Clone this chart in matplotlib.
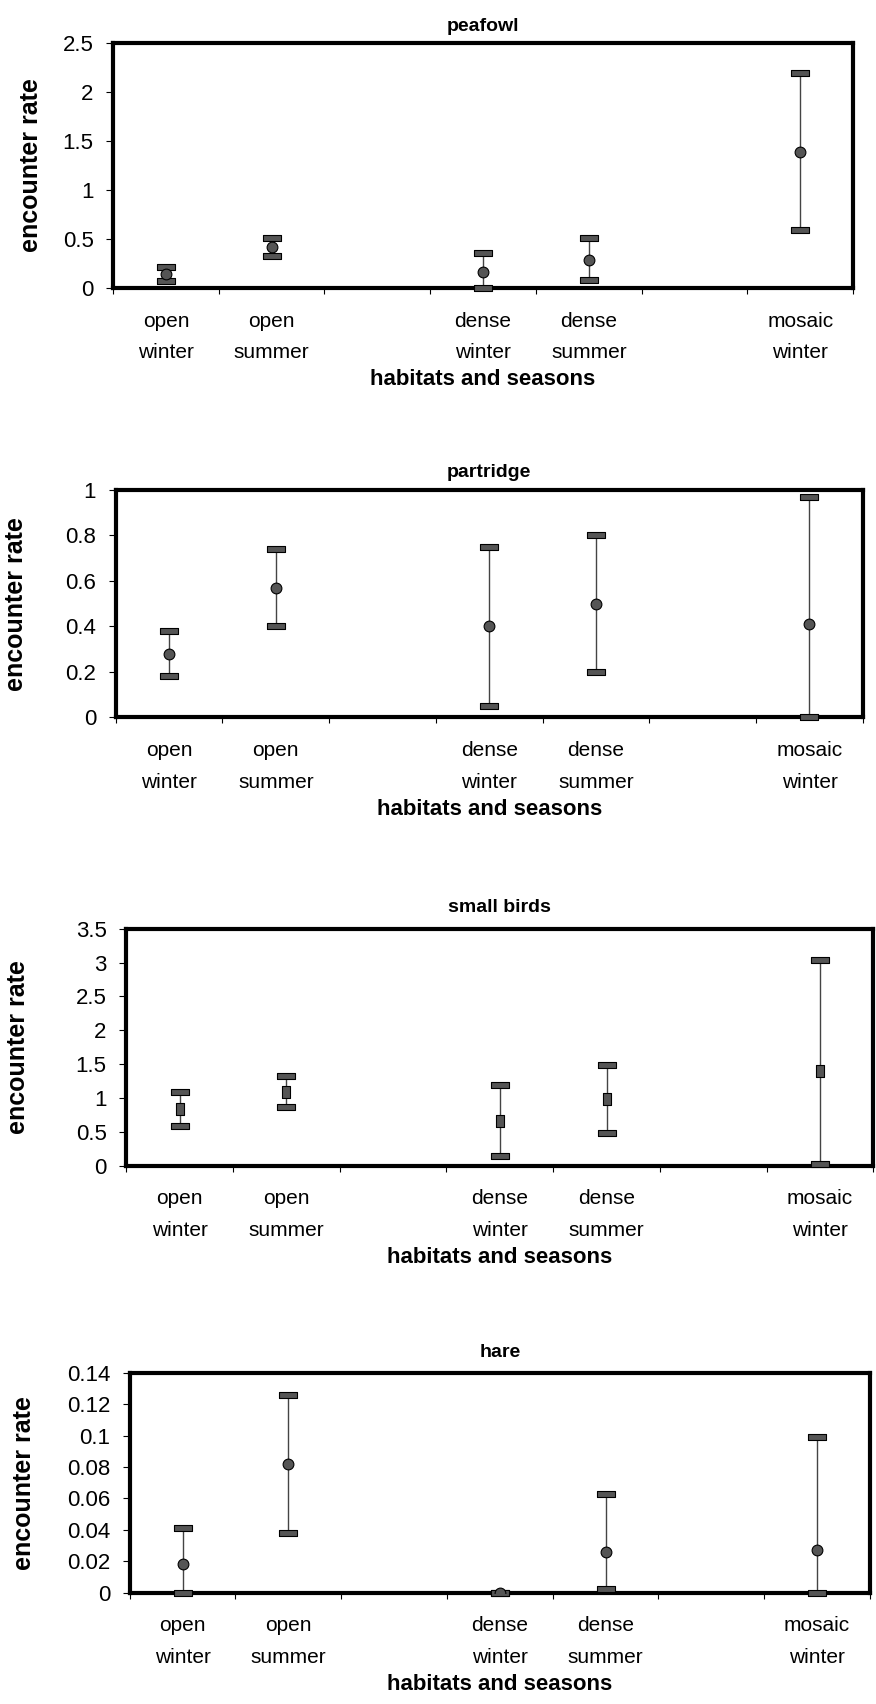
import numpy as np
import matplotlib
matplotlib.use('Agg')
import matplotlib.pyplot as plt
from matplotlib.ticker import FuncFormatter

plt.rcParams['font.family'] = ['Liberation Sans', 'DejaVu Sans']

nan = np.nan

# categories (Excel style, two empty slots between the habitat groups)
categories = ['open\nwinter', 'open\nsummer', '', 'dense\nwinter', 'dense\nsummer', '', 'mosaic\nwinter']

# peafowl
peafowl_mean = [0.14, 0.42, nan, 0.16, 0.29, nan, 1.39]
peafowl_low = [0.07, 0.33, nan, 0.0, 0.08, nan, 0.59]
peafowl_high = [0.21, 0.51, nan, 0.36, 0.51, nan, 2.19]

# partridge
partridge_mean = [0.28, 0.57, nan, 0.40, 0.50, nan, 0.41]
partridge_low = [0.18, 0.40, nan, 0.05, 0.20, nan, 0.0]
partridge_high = [0.38, 0.74, nan, 0.75, 0.80, nan, 0.97]

# small birds
smallbirds_mean = [0.83, 1.09, nan, 0.66, 0.98, nan, 1.40]
smallbirds_low = [0.58, 0.86, nan, 0.14, 0.48, nan, 0.02]
smallbirds_high = [1.08, 1.33, nan, 1.19, 1.49, nan, 3.03]

# hare
hare_mean = [0.018, 0.082, nan, 0.0, 0.026, nan, 0.027]
hare_low = [0.0, 0.038, nan, 0.0, 0.002, nan, 0.0]
hare_high = [0.041, 0.126, nan, 0.0, 0.063, nan, 0.099]

# title, mean, low, high, marker, ymax, step, axes rect, title pad, ylabel pad
panels = [
    ('peafowl', peafowl_mean, peafowl_low, peafowl_high, 'o', 2.5, 0.5,
     [0.129, 0.831, 0.845, 0.144], 8, 14),
    ('partridge', partridge_mean, partridge_low, partridge_high, 'o', 1.0, 0.2,
     [0.132, 0.579, 0.853, 0.1335], 9, 27),
    ('small birds', smallbirds_mean, smallbirds_low, smallbirds_high, 's', 3.5, 0.5,
     [0.144, 0.316, 0.853, 0.139], 12, 33),
    ('hare', hare_mean, hare_low, hare_high, 'o', 0.14, 0.02,
     [0.148, 0.0654, 0.845, 0.129], 11, 22),
]

# flat bar for the error caps, tall box for the small-bird means
cap = [(-1, -0.3), (1, -0.3), (1, 0.3), (-1, 0.3), (-1, -0.3)]
box = [(-0.7, -1), (0.7, -1), (0.7, 1), (-0.7, 1), (-0.7, -1)]

fig = plt.figure(figsize=(8.76, 17.04), dpi=100)

for title, mean, low, high, mk, ymax, step, rect, tpad, ypad in panels:
    ax = fig.add_axes(rect)
    x = np.arange(len(categories))

    ax.vlines(x, low, high, color='#444444', lw=1.0, zorder=2)
    ax.scatter(x, high, marker=cap, s=175, color='#555555', edgecolors='black',
               linewidths=0.8, zorder=3, clip_on=False)
    ax.scatter(x, low, marker=cap, s=175, color='#555555', edgecolors='black',
               linewidths=0.8, zorder=3, clip_on=False)
    if mk == 's':
        ax.scatter(x, mean, marker=box, s=70, color='#555555', edgecolors='black',
                   linewidths=0.8, zorder=4)
    else:
        ax.scatter(x, mean, marker='o', s=60, color='#555555', edgecolors='black',
                   linewidths=0.8, zorder=4)

    ax.set_xlim(-0.5, len(categories) - 0.5)
    ax.set_ylim(0, ymax)
    ax.set_yticks(np.arange(0, ymax + step / 2, step))
    ax.yaxis.set_major_formatter(FuncFormatter(lambda v, p: '{:g}'.format(round(v, 4))))

    ax.set_xticks(x)
    ax.set_xticklabels(categories, fontsize=15, linespacing=1.85)
    ax.set_xticks(np.arange(-0.5, len(categories), 1.0), minor=True)
    ax.tick_params(axis='x', which='major', length=0, pad=17)
    ax.tick_params(axis='x', which='minor', length=4, width=0.8, direction='out')
    ax.tick_params(axis='y', length=5, width=0.8, direction='out', labelsize=16, pad=9)

    for s in ax.spines.values():
        s.set_linewidth(3)

    ax.set_title(title, fontsize=14, fontweight='bold', pad=tpad)
    ax.set_ylabel('encounter rate', fontsize=18, fontweight='bold', labelpad=ypad)
    ax.set_xlabel('habitats and seasons', fontsize=16, fontweight='bold', labelpad=5)

fig.savefig('out.png', dpi=100)
